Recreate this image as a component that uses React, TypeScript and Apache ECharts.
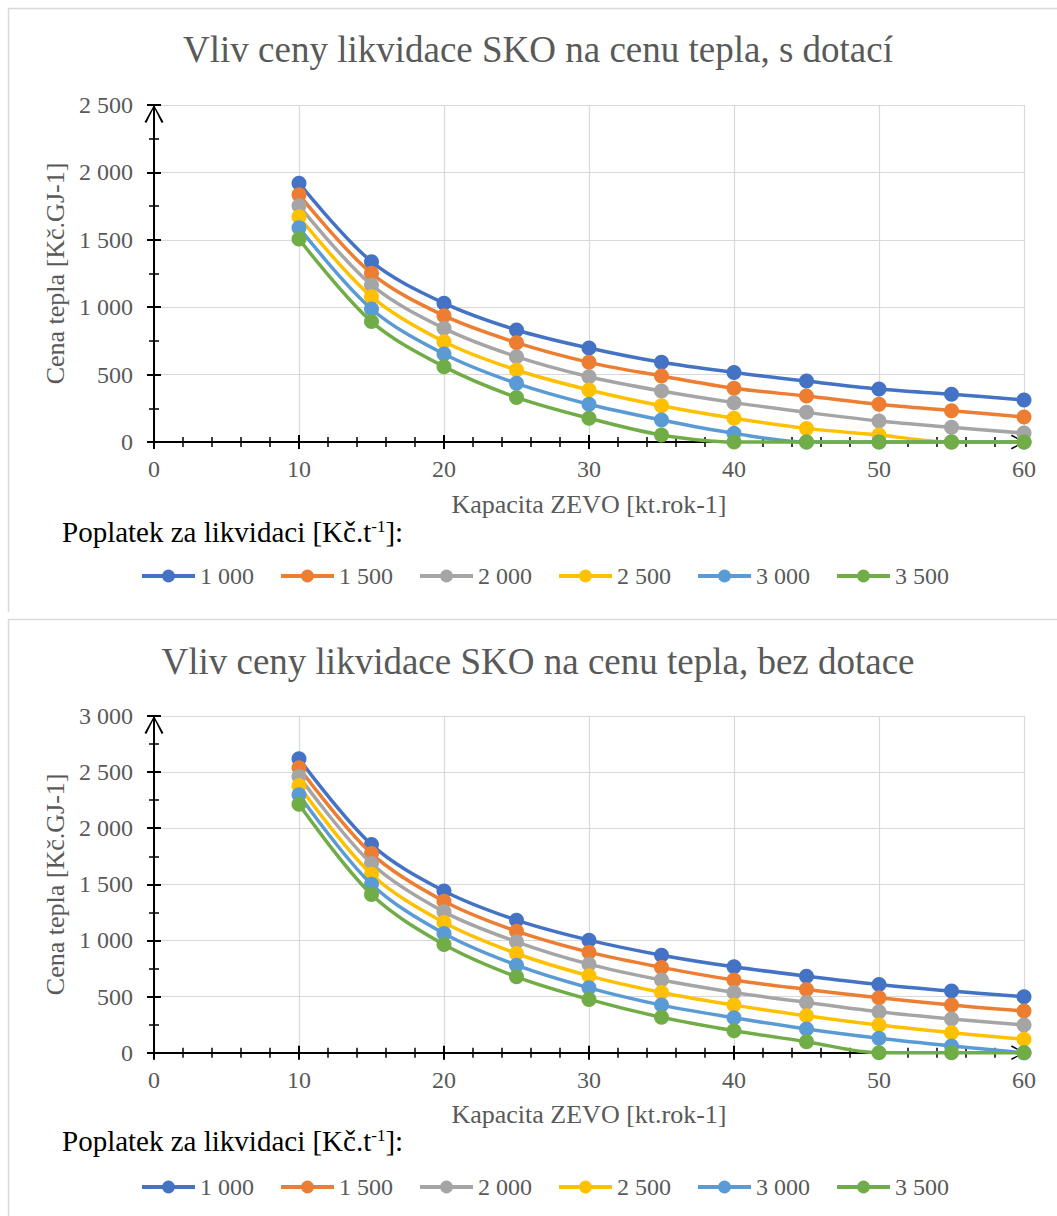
import React, { useEffect, useRef } from 'react';
import * as echarts from 'echarts';

const FONT = 'Liberation Serif, DejaVu Serif, Times New Roman, serif';

const capacities = [10, 15, 20, 25, 30, 35, 40, 45, 50, 55, 60];
const feeNames = ['1 000', '1 500', '2 000', '2 500', '3 000', '3 500'];
const colors = ['#4472C4', '#ED7D31', '#A5A5A5', '#FFC000', '#5B9BD5', '#70AD47'];

// s dotací
const sub1000 = [1920, 1338, 1030, 831, 697, 591, 516, 452, 393, 354, 312];
const sub1500 = [1835, 1251, 937, 737, 591, 490, 398, 341, 280, 232, 185];
const sub2000 = [1753, 1165, 843, 633, 484, 378, 292, 220, 156, 109, 66];
const sub2500 = [1671, 1078, 744, 534, 386, 269, 176, 101, 52, 0, 0];
const sub3000 = [1590, 987, 653, 435, 280, 163, 64, 0, 0, 0, 0];
const sub3500 = [1506, 893, 559, 331, 176, 52, 0, 0, 0, 0, 0];

// bez dotace
const noSub1000 = [2619, 1854, 1441, 1181, 1003, 869, 765, 682, 608, 549, 498];
const noSub1500 = [2539, 1774, 1350, 1083, 896, 760, 647, 564, 489, 424, 371];
const noSub2000 = [2462, 1685, 1255, 988, 789, 647, 537, 448, 365, 300, 246];
const noSub2500 = [2379, 1590, 1160, 884, 685, 537, 424, 329, 246, 178, 119];
const noSub3000 = [2299, 1501, 1062, 780, 578, 424, 311, 211, 128, 60, 0];
const noSub3500 = [2213, 1409, 964, 676, 475, 315, 196, 98, 0, 0, 0];

const titleTop = 'Vliv ceny likvidace SKO na cenu tepla, s dotací';
const titleBottom = 'Vliv ceny likvidace SKO na cenu tepla, bez dotace';
const xAxisName = 'Kapacita ZEVO [kt.rok-1]';
const yAxisName = 'Cena tepla [Kč.GJ-1]';

const ARROW = 'path://M9.5,0 L19,17 L17.1,18 L9.5,2.5 L1.9,18 L0,17 Z';

function fmt(v: number): string {
  if (v >= 1000) {
    const th = Math.floor(v / 1000);
    const rest = String(v % 1000).padStart(3, '0');
    return th + ' ' + rest;
  }
  return String(v);
}

type Cfg = {
  title: string;
  yMax: number;
  data: number[][];
  gridTop: number;
  gridBottom: number;
  titleY: number;
  legendTop: number;
  legendTitleY: number;
  frameY: number;
  frameH: number;
};

function makeOption(c: Cfg) {
  const tickStyle = { color: '#000', width: 2 };
  const minorStyle = { color: '#000', width: 1.5 };
  const xBase = { type: 'value', min: 0, max: 60, interval: 10 };
  const yBase = { type: 'value', min: 0, max: c.yMax, interval: 500 };
  return {
    animation: false,
    backgroundColor: '#ffffff',
    textStyle: { fontFamily: FONT },
    title: {
      text: c.title,
      left: 538,
      top: c.titleY,
      textAlign: 'center',
      padding: 0,
      textStyle: { fontFamily: FONT, fontSize: 37, fontWeight: 'normal', color: '#595959' },
    },
    grid: { left: 154, right: 33, top: c.gridTop, bottom: c.gridBottom, containLabel: false },
    legend: {
      left: 140,
      top: c.legendTop,
      padding: 0,
      itemWidth: 53,
      itemHeight: 16,
      itemGap: 25,
      data: feeNames,
      lineStyle: { width: 4 },
      textStyle: { fontFamily: FONT, fontSize: 24, color: '#595959' },
    },
    xAxis: [
      {
        ...xBase,
        position: 'bottom',
        name: xAxisName,
        nameLocation: 'middle',
        nameGap: 49,
        nameTextStyle: { fontFamily: FONT, fontSize: 26, color: '#595959' },
        axisLine: {
          show: true,
          onZero: true,
          lineStyle: { color: '#000', width: 2 },
          symbol: ['none', ARROW],
          symbolSize: [17, 14],
          symbolOffset: [0, -6],
        },
        axisTick: { show: true, length: 7, lineStyle: tickStyle },
        minorTick: { show: true, splitNumber: 5, length: 5, lineStyle: minorStyle },
        axisLabel: { margin: 15, fontFamily: FONT, fontSize: 24, color: '#595959' },
        splitLine: { show: true, lineStyle: { color: '#d9d9d9', width: 1.2 } },
      },
      {
        ...xBase,
        position: 'top',
        axisLine: { show: false, onZero: true },
        axisTick: { show: true, length: 7, lineStyle: tickStyle },
        minorTick: { show: true, splitNumber: 5, length: 5, lineStyle: minorStyle },
        axisLabel: { show: false },
        splitLine: { show: false },
      },
    ],
    yAxis: [
      {
        ...yBase,
        position: 'left',
        name: yAxisName,
        nameLocation: 'middle',
        nameGap: 81,
        nameTextStyle: { fontFamily: FONT, fontSize: 26, color: '#595959' },
        axisLine: {
          show: true,
          onZero: true,
          lineStyle: { color: '#000', width: 2 },
          symbol: ['none', ARROW],
          symbolSize: [19, 18],
          symbolOffset: [0, -9],
        },
        axisTick: { show: true, length: 7, lineStyle: tickStyle },
        minorTick: { show: true, splitNumber: 2, length: 5, lineStyle: minorStyle },
        axisLabel: { margin: 21, fontFamily: FONT, fontSize: 24, color: '#595959', formatter: fmt },
        splitLine: { show: true, lineStyle: { color: '#d9d9d9', width: 1.2 } },
      },
      {
        ...yBase,
        position: 'right',
        axisLine: { show: false, onZero: true },
        axisTick: { show: true, length: 7, lineStyle: tickStyle },
        minorTick: { show: true, splitNumber: 2, length: 5, lineStyle: minorStyle },
        axisLabel: { show: false },
        splitLine: { show: false },
      },
    ],
    graphic: [
      {
        type: 'rect',
        silent: true,
        z: -10,
        shape: { x: 8.5, y: c.frameY, width: 1100, height: c.frameH },
        style: { fill: 'none', stroke: '#d9d9d9', lineWidth: 1.5 },
      },
      {
        type: 'text',
        silent: true,
        x: 62,
        y: c.legendTitleY,
        style: {
          text: '{a|Poplatek za likvidaci [Kč.t}{s|-1}{a|]:}',
          verticalAlign: 'middle',
          rich: {
            a: { fontFamily: FONT, fontSize: 29, fill: '#000' },
            s: { fontFamily: FONT, fontSize: 17, fill: '#000', verticalAlign: 'top' },
          },
        },
      },
    ],
    series: c.data.map((d, i) => ({
      name: feeNames[i],
      type: 'line',
      xAxisIndex: 0,
      yAxisIndex: 0,
      data: capacities.map((x, j) => [x, d[j]]),
      smooth: 0.33,
      symbol: 'circle',
      symbolSize: 15,
      showSymbol: true,
      clip: false,
      z: 3 + i,
      lineStyle: { width: 3.5, color: colors[i] },
      itemStyle: { color: colors[i] },
    })),
  };
}

function ChartBox(props: { option: any; top: number; height: number }) {
  const ref = useRef<HTMLDivElement>(null);
  useEffect(() => {
    const chart = echarts.init(ref.current as HTMLDivElement, undefined, { renderer: 'svg' });
    chart.setOption(props.option);
    return () => chart.dispose();
  }, []);
  return (
    <div
      ref={ref}
      style={{ position: 'absolute', left: 0, top: props.top, width: 1057, height: props.height }}
    />
  );
}

export default function App() {
  const opt1 = makeOption({
    title: titleTop,
    yMax: 2500,
    data: [sub1000, sub1500, sub2000, sub2500, sub3000, sub3500],
    gridTop: 105,
    gridBottom: 170,
    titleY: 31,
    legendTop: 564,
    legendTitleY: 532,
    frameY: 8.5,
    frameH: 604.5,
  });
  const opt2 = makeOption({
    title: titleBottom,
    yMax: 3000,
    data: [noSub1000, noSub1500, noSub2000, noSub2500, noSub3000, noSub3500],
    gridTop: 104,
    gridBottom: 163.3,
    titleY: 31,
    legendTop: 563,
    legendTitleY: 529,
    frameY: 7.5,
    frameH: 800,
  });
  return (
    <div style={{ position: 'absolute', left: 0, top: 0, width: 1057, height: 1216, background: '#fff', overflow: 'hidden' }}>
      <ChartBox option={opt1} top={0} height={612} />
      <ChartBox option={opt2} top={612} height={604} />
    </div>
  );
}
